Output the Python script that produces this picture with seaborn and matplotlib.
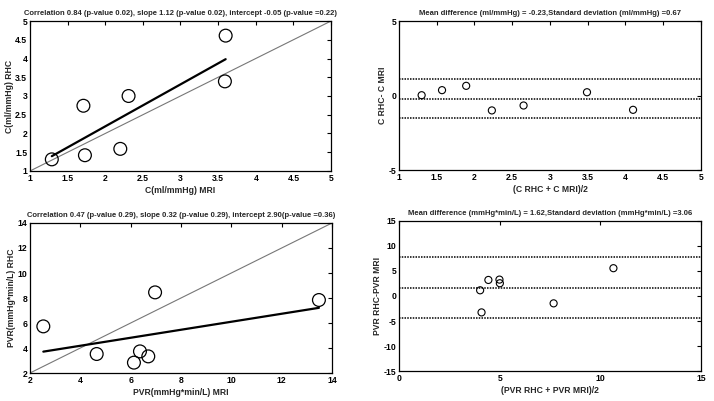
import numpy as np
import pandas as pd
import matplotlib
matplotlib.use("Agg")
import matplotlib.pyplot as plt
import seaborn as sns

# Compliance: MRI vs RHC
c_mri = [1.29, 1.71, 1.73, 2.20, 2.31, 3.59, 3.60]
c_rhc = [1.31, 2.74, 1.42, 1.59, 3.00, 3.39, 4.61]
c_slope, c_intercept = 1.12, -0.05

# Compliance Bland-Altman
c_ba_mean = [1.30, 1.57, 1.89, 2.23, 2.65, 3.49, 4.10]
c_ba_diff = [0.02, 0.36, 0.65, -1.00, -0.67, 0.22, -0.96]
c_ba_lines = [1.08, -0.23, -1.54]

# PVR: MRI vs RHC
pvr_mri = [2.53, 4.65, 6.13, 6.37, 6.70, 6.97, 13.48]
pvr_rhc = [5.73, 3.52, 2.83, 3.73, 3.33, 8.45, 7.84]
pvr_slope, pvr_intercept = 0.32, 2.90

# PVR Bland-Altman
pvr_ba_mean = [4.03, 4.10, 4.44, 4.99, 5.01, 7.68, 10.65]
pvr_ba_diff = [1.14, -3.28, 3.21, 3.28, 2.55, -1.47, 5.56]
pvr_ba_lines = [7.70, 1.62, -4.45]

titles = [
    "Correlation 0.84 (p-value 0.02), slope 1.12 (p-value 0.02), intercept -0.05 (p-value =0.22)",
    "Mean difference (ml/mmHg) = -0.23,Standard deviation (ml/mmHg) =0.67",
    "Correlation 0.47 (p-value 0.29), slope 0.32 (p-value 0.29), intercept 2.90(p-value =0.36)",
    "Mean difference (mmHg*min/L) = 1.62,Standard deviation (mmHg*min/L) =3.06",
]

FS_TITLE = 5.5
FS = 6.2

sns.set_style("white")
plt.rcParams["font.family"] = ["Liberation Sans", "DejaVu Sans"]
plt.rcParams["font.size"] = FS
plt.rcParams["font.weight"] = "bold"
plt.rcParams["axes.labelweight"] = "bold"
plt.rcParams["axes.titleweight"] = "bold"

fig = plt.figure(figsize=(7.14, 4.01), dpi=100)
ax_tl = fig.add_axes([0.042, 0.5736, 0.4216, 0.374])
ax_tr = fig.add_axes([0.5588, 0.576, 0.423, 0.3716])
ax_bl = fig.add_axes([0.042, 0.0698, 0.423, 0.3741])
ax_br = fig.add_axes([0.5588, 0.0748, 0.423, 0.3741])


def matlab_box(ax):
    for s in ax.spines.values():
        s.set_color("black")
        s.set_linewidth(0.9)
    ax.tick_params(direction="in", top=True, right=True, length=3, width=0.8,
                   labelsize=FS, pad=2, colors="black")


def corr_panel(ax, x, y, slope, intercept, lim, ticks, xlabel, ylabel, title):
    df = pd.DataFrame({"x": x, "y": y})
    sns.lineplot(x=lim, y=lim, ax=ax, color="#777777", linewidth=0.8)
    xfit = np.array([min(x), max(x)])
    sns.lineplot(x=xfit, y=slope * xfit + intercept, ax=ax, color="black", linewidth=1.6)
    sns.scatterplot(data=df, x="x", y="y", ax=ax, s=85, marker="o",
                    facecolor="none", edgecolor="black", linewidth=0.9, zorder=3)
    ax.set_xlim(lim)
    ax.set_ylim(lim)
    ax.set_xticks(ticks)
    ax.set_yticks(ticks)
    ax.set_xticklabels([f"{t:g}" for t in ticks])
    ax.set_yticklabels([f"{t:g}" for t in ticks])
    ax.set_xlabel(xlabel, labelpad=2)
    ax.set_ylabel(ylabel, labelpad=1)
    ax.set_title(title, fontsize=FS_TITLE, pad=4)
    matlab_box(ax)


def ba_panel(ax, x, y, lines, xlim, ylim, xticks, yticks, xlabel, ylabel, title):
    df = pd.DataFrame({"x": x, "y": y})
    for v in lines:
        ax.axhline(v, color="black", linestyle=(0, (1, 0.8)), linewidth=1.1)
    sns.scatterplot(data=df, x="x", y="y", ax=ax, s=26, marker="o",
                    facecolor="none", edgecolor="black", linewidth=0.8, zorder=3)
    ax.set_xlim(xlim)
    ax.set_ylim(ylim)
    ax.set_xticks(xticks)
    ax.set_yticks(yticks)
    ax.set_xticklabels([f"{t:g}" for t in xticks])
    ax.set_yticklabels([f"{t:g}" for t in yticks])
    ax.set_xlabel(xlabel, labelpad=2)
    ax.set_ylabel(ylabel, labelpad=1)
    ax.set_title(title, fontsize=FS_TITLE, pad=4)
    matlab_box(ax)


corr_panel(ax_tl, c_mri, c_rhc, c_slope, c_intercept, [1, 5],
           [1, 1.5, 2, 2.5, 3, 3.5, 4, 4.5, 5],
           "C(ml/mmHg) MRI", "C(ml/mmHg) RHC", titles[0])
ba_panel(ax_tr, c_ba_mean, c_ba_diff, c_ba_lines, [1, 5], [-5, 5],
         [1, 1.5, 2, 2.5, 3, 3.5, 4, 4.5, 5], [-5, 0, 5],
         "(C RHC + C MRI)/2", "C RHC- C MRI", titles[1])
corr_panel(ax_bl, pvr_mri, pvr_rhc, pvr_slope, pvr_intercept, [2, 14],
           [2, 4, 6, 8, 10, 12, 14],
           "PVR(mmHg*min/L) MRI", "PVR(mmHg*min/L) RHC", titles[2])
ba_panel(ax_br, pvr_ba_mean, pvr_ba_diff, pvr_ba_lines, [0, 15], [-15, 15],
         [0, 5, 10, 15], [-15, -10, -5, 0, 5, 10, 15],
         "(PVR RHC + PVR MRI)/2", "PVR RHC-PVR MRI", titles[3])

fig.savefig("out.png", dpi=100)
